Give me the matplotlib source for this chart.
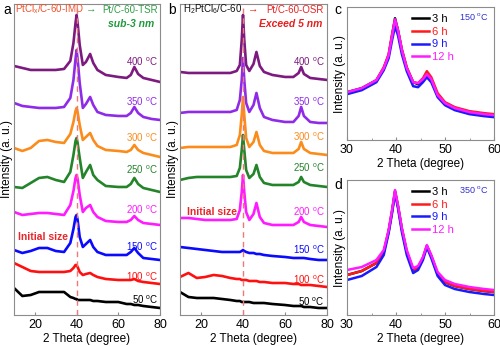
import matplotlib
matplotlib.use("Agg")
import matplotlib.pyplot as plt

plt.rcParams["font.family"] = ["Liberation Sans", "DejaVu Sans"]
plt.rcParams["mathtext.fontset"] = "custom"
plt.rcParams["mathtext.rm"] = "Liberation Sans"
plt.rcParams["mathtext.it"] = "Liberation Sans:italic"

# XRD patterns, intensity in arbitrary units (already stacked with offsets)
theta_a = [10, 14, 18, 22, 26, 30, 34, 37, 38.5, 39.5, 40, 40.5, 41.5, 43,
           44.5, 46.5, 48, 50, 54, 60, 64, 66, 67.7, 69.5, 72, 76, 80]
tsr = {
    400: [249, 247, 245, 245, 245, 245, 246, 254, 272, 292, 300, 292, 270, 250,
          253, 261, 252, 245, 240, 238, 237, 240, 248, 241, 237, 235, 233],
    350: [212, 209, 208, 207, 207, 207, 208, 217, 235, 256, 265, 256, 232, 207,
          211, 218, 210, 203, 200, 199, 199, 202, 208, 202, 198, 196, 195],
    300: [167, 164, 167, 174, 175, 173, 172, 181, 193, 204, 207, 203, 190, 175,
          178, 182, 175, 169, 165, 164, 163, 165, 170, 165, 162, 160, 158],
    250: [128, 127, 132, 137, 138, 135, 133, 143, 160, 174, 177, 172, 157, 137,
          143, 150, 140, 135, 129, 128, 128, 131, 137, 131, 127, 125, 123],
    200: [103, 100, 101, 102, 102, 101, 100, 110, 124, 137, 140, 136, 120, 103,
          107, 110, 103, 98, 94, 93, 93, 95, 99, 95, 92, 91, 90],
    150: [65, 62, 64, 67, 67, 64, 63, 72, 86, 98, 100, 95, 78, 68,
          71, 75, 68, 63, 60, 60, 60, 63, 67, 62, 57, 56, 55],
    100: [52, 48, 44, 43, 43, 43, 43, 44, 47, 50, 50, 48, 43, 40,
          41, 42, 40, 38, 36, 35, 35, 35, 36, 34, 33, 32, 31],
    50: [27, 19, 20, 23, 23, 23, 23, 18, 17, 16, 16, 15, 15, 15,
         15, 15, 14, 14, 13, 13, 11, 11, 10, 10, 9, 8, 7],
}

theta_b = [10, 14, 18, 22, 26, 30, 34, 37, 38.5, 39.4, 40, 40.6, 41.5, 43,
           45, 46.4, 48, 50, 54, 60, 64, 66.5, 67.7, 69, 72, 76, 80]
osr = {
    400: [243, 242, 242, 242, 242, 242, 242, 244, 250, 275, 300, 275, 250, 244,
          251, 263, 249, 243, 240, 238, 238, 242, 248, 241, 237, 236, 235],
    350: [202, 203, 203, 203, 203, 203, 203, 205, 215, 235, 257, 235, 212, 203,
          210, 222, 207, 198, 195, 193, 193, 199, 208, 199, 193, 192, 192],
    300: [167, 168, 168, 168, 168, 168, 168, 170, 180, 200, 218, 200, 177, 168,
          173, 183, 170, 164, 162, 162, 162, 166, 173, 166, 162, 161, 160],
    250: [135, 137, 138, 138, 138, 138, 138, 139, 147, 165, 180, 165, 145, 137,
          141, 150, 138, 132, 130, 130, 130, 133, 138, 133, 130, 129, 128],
    200: [97, 97, 96, 95, 95, 95, 95, 96, 105, 123, 140, 123, 103, 95,
          101, 112, 98, 92, 90, 90, 90, 93, 98, 93, 90, 89, 88],
    150: [68, 67, 66, 65, 64, 63, 63, 63, 63, 64, 65, 64, 63, 62,
          62, 61, 61, 60, 59, 58, 57, 57, 57, 57, 56, 55, 55],
    100: [38, 42, 37, 38, 40, 39, 37, 36, 36, 35, 35, 35, 35, 34,
          34, 34, 33, 33, 32, 32, 31, 31, 30, 30, 30, 29, 28],
    50: [23, 18, 17, 17, 17, 16, 15, 14, 14, 13, 13, 13, 13, 13,
         12, 12, 12, 12, 11, 10, 9, 9, 9, 8, 8, 7, 7],
}

# label heights (same units as the curves)
label_y_a = {400: 253, 350: 213, 300: 177, 250: 145, 200: 105, 150: 68, 100: 38, 50: 15}
label_y_b = {400: 253, 350: 213, 300: 178, 250: 147, 200: 103, 150: 65, 100: 35, 50: 13}

temp_colors = {400: "#7d1a80", 350: "#8f2be8", 300: "#fb8c1c", 250: "#24842a",
               200: "#ff1aff", 150: "#0a0aff", 100: "#ff1010", 50: "#000000"}

# holding-time series
theta_t = [30, 33, 36, 37.5, 38.5, 39.2, 39.8, 40.4, 41.2, 42.2, 43.5, 44.5,
           45.5, 46.3, 47.2, 48.5, 50, 52, 55, 58, 60]
hold_150 = {
    "3 h": [48, 52, 60, 72, 85, 105, 122, 110, 90, 72, 58, 56, 60, 65, 60, 45, 37, 32, 28, 26, 25],
    "6 h": [47, 51, 60, 73, 86, 106, 120, 110, 91, 73, 58, 57, 62, 69, 63, 47, 38, 33, 29, 27, 26],
    "9 h": [46, 50, 58, 70, 82, 100, 114, 105, 86, 69, 54, 53, 58, 63, 58, 43, 35, 30, 26, 24, 23],
    "12 h": [48, 52, 60, 72, 85, 104, 121, 110, 90, 72, 58, 57, 61, 66, 61, 45, 37, 32, 28, 26, 25],
}
hold_350 = {
    "3 h": [40, 44, 52, 63, 84, 104, 124, 109, 86, 63, 45, 47, 57, 69, 59, 41, 33, 29, 26, 24, 23],
    "6 h": [40, 44, 52, 63, 84, 104, 123, 109, 86, 63, 45, 47, 57, 69, 59, 41, 33, 29, 26, 24, 23],
    "9 h": [35, 39, 48, 60, 82, 102, 122, 107, 83, 60, 42, 45, 55, 68, 57, 39, 30, 26, 23, 21, 20],
    "12 h": [45, 48, 55, 65, 85, 105, 125, 110, 87, 65, 47, 49, 58, 70, 60, 43, 35, 31, 28, 26, 25],
}
time_colors = {"3 h": "#000000", "6 h": "#ff1a1a", "9 h": "#1a1aff", "12 h": "#ff1aff"}

fig = plt.figure(figsize=(5.0, 3.46), dpi=100)
ax_a = fig.add_axes([0.028, 0.0896, 0.292, 0.899])
ax_b = fig.add_axes([0.360, 0.0896, 0.294, 0.899])
ax_c = fig.add_axes([0.694, 0.595, 0.294, 0.384])
ax_d = fig.add_axes([0.694, 0.0896, 0.294, 0.390])


def style_axes(ax, xlim, xticks, ylim):
    ax.set_xlim(*xlim)
    ax.set_ylim(*ylim)
    ax.set_xticks(xticks)
    ax.set_yticks([])
    for sp in ax.spines.values():
        sp.set_color("#8c8c8c")
        sp.set_linewidth(0.8)
    ax.tick_params(axis="x", direction="in", length=2.5, color="#8c8c8c",
                   labelsize=9, pad=3)
    ax.set_xlabel("2 Theta (degree)", fontsize=8.5, labelpad=1)
    ax.set_ylabel("Intensity (a. u.)", fontsize=8.5, labelpad=1)


def stacked(ax, theta, curves, label_y, label_x):
    for temp, vals in curves.items():
        ax.plot(theta, vals, color=temp_colors[temp], lw=1.9)
        ax.text(label_x, label_y[temp], f"{temp} $^{{\\mathrm{{o}}}}$C",
                color=temp_colors[temp], fontsize=7, ha="right", va="center")
    ax.axvline(40, color="#f07878", lw=1.0, ls=(0, (4, 3)), zorder=5)


stacked(ax_a, theta_a, tsr, label_y_a, 79)
style_axes(ax_a, (10, 80), [20, 40, 60, 80], (0, 311))
ax_a.text(0.03, 0.25, "Initial size", transform=ax_a.transAxes,
          color="#e8262a", fontsize=7.5, fontweight="bold", va="center")
ax_a.text(0.01, 0.982, "PtCl$_{\\mathrm{x}}$/C-60-IMD", transform=ax_a.transAxes,
          color="#f0502a", fontsize=7, va="center")
ax_a.text(0.49, 0.982, "\u2192", transform=ax_a.transAxes,
          color="#2fa048", fontsize=7.5, fontweight="bold", va="center")
ax_a.text(0.605, 0.982, "Pt/C-60-TSR", transform=ax_a.transAxes,
          color="#2fa048", fontsize=7, va="center")
ax_a.text(0.96, 0.936, "sub-3 nm", transform=ax_a.transAxes,
          color="#1e9a3c", fontsize=7.5, fontweight="bold", fontstyle="italic",
          ha="right", va="center")

stacked(ax_b, theta_b, osr, label_y_b, 79)
style_axes(ax_b, (10, 80), [20, 40, 60, 80], (0, 311))
ax_b.text(0.05, 0.33, "Initial size", transform=ax_b.transAxes,
          color="#e8262a", fontsize=7.5, fontweight="bold", va="center")
ax_b.text(0.02, 0.982, "H$_{\\mathrm{2}}$PtCl$_{\\mathrm{6}}$/C-60",
          transform=ax_b.transAxes, color="#111111", fontsize=7, va="center")
ax_b.text(0.46, 0.982, "\u2192", transform=ax_b.transAxes,
          color="#f02020", fontsize=7.5, fontweight="bold", va="center")
ax_b.text(0.585, 0.982, "Pt/C-60-OSR", transform=ax_b.transAxes,
          color="#f02020", fontsize=7, va="center")
ax_b.text(0.97, 0.936, "Exceed 5 nm", transform=ax_b.transAxes,
          color="#e81e1e", fontsize=7.5, fontweight="bold", fontstyle="italic",
          ha="right", va="center")


def holding(ax, curves, temp_text, top):
    for name, vals in curves.items():
        ax.plot(theta_t, vals, color=time_colors[name], lw=1.8, label=name)
    style_axes(ax, (30, 60), [30, 40, 50, 60], (0, top))
    ax.xaxis.set_minor_locator(plt.MultipleLocator(5))
    ax.tick_params(axis="x", which="minor", direction="in", length=1.5,
                   color="#8c8c8c")
    ax.legend(loc="upper left", bbox_to_anchor=(0.40, 1.0), frameon=False,
              fontsize=8, handlelength=1.5, handletextpad=0.3,
              labelspacing=0.25, borderaxespad=0.2, labelcolor="linecolor")
    ax.text(0.86, 0.93, temp_text, transform=ax.transAxes, color="#3030d0",
            fontsize=6.5, ha="center", va="center")


holding(ax_c, hold_150, "150 $^{\\mathrm{o}}$C", 133)
holding(ax_d, hold_350, "350 $^{\\mathrm{o}}$C", 135)

fig.text(0.006, 0.97, "a", fontsize=10, va="center")
fig.text(0.336, 0.97, "b", fontsize=10, va="center")
fig.text(0.668, 0.97, "c", fontsize=10, va="center")
fig.text(0.668, 0.465, "d", fontsize=10, va="center")

fig.savefig("out.png", dpi=100)
